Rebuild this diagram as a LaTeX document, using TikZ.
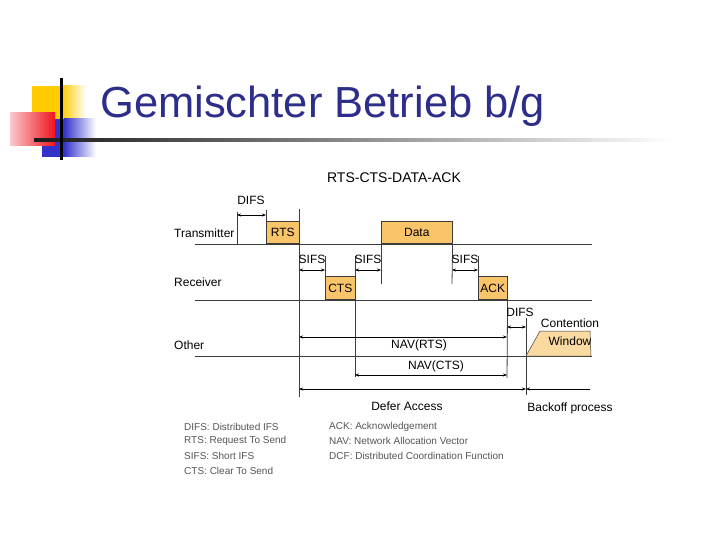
\documentclass[tikz,border=0pt]{standalone}
\usepackage{fontspec}
\setmainfont{Liberation Sans}
\usetikzlibrary{arrows.meta}
\definecolor{titleblue}{RGB}{45,45,140}
\definecolor{boxfill}{RGB}{249,196,106}
\definecolor{cwfill}{RGB}{251,218,162}
\definecolor{linegray}{RGB}{60,60,60}
\definecolor{legendgray}{RGB}{85,85,85}
\definecolor{logoyellow}{RGB}{255,204,0}
\definecolor{logoblue}{RGB}{51,51,204}
\definecolor{logored}{RGB}{240,20,30}
\definecolor{logopink}{RGB}{250,200,205}
\begin{document}
\begin{tikzpicture}[x=1pt,y=-1pt,
  axis/.style={draw=linegray, line width=0.8pt},
  tickline/.style={draw=linegray, line width=0.8pt},
  dim/.style={draw=black, line width=0.6pt, {Stealth[length=4pt,width=3pt]}-{Stealth[length=4pt,width=3pt]}},
  ldim/.style={draw=black, line width=0.6pt, {Stealth[length=4pt,width=3pt]}-},
  framebox/.style={draw=linegray, line width=0.6pt, fill=boxfill, inner sep=0pt, anchor=south west, font=\fontsize{12}{14}\selectfont},
  lbl/.style={font=\fontsize{12}{14}\selectfont, inner sep=0pt},
  leg/.style={font=\fontsize{10}{12}\selectfont, text=legendgray, anchor=west, inner sep=0pt}
]
\useasboundingbox[fill=white] (0,0) rectangle (720,540);

% ---- logo ----
\fill[logoyellow] (32,86) rectangle (62,120);
\shade[left color=logoyellow, right color=white] (62,86) rectangle (86,120);
\fill[logoblue] (42,119) rectangle (64,157);
\shade[left color=logoblue, right color=white] (64,119) rectangle (96,157);
\shade[left color=logopink, right color=logored] (10,113) rectangle (55,146);
\shade[left color=black!90, right color=white] (34,139) rectangle (673,141.5);
\fill[black] (60,78) rectangle (62.5,160);

% ---- title ----
\node[anchor=base west, text=titleblue, font=\fontsize{43.5}{50}\selectfont, inner sep=0pt] (title) at (100,118) {Gemischter Betrieb b/g};

% ---- diagram heading ----
\node[font=\fontsize{14}{16}\selectfont, inner sep=0pt] (head) at (394,178) {RTS-CTS-DATA-ACK};

% ---- axes ----
\coordinate (txL) at (195,244); \coordinate (txR) at (592,244);
\coordinate (rxL) at (195,300); \coordinate (rxR) at (592,300);
\coordinate (otL) at (195,356); \coordinate (otR) at (592,356);
\draw[axis] (txL) -- (txR);
\draw[axis] (rxL) -- (rxR);
\draw[axis] (otL) -- (otR);

\node[lbl, anchor=west] (ltx) at (174,233) {Transmitter};
\node[lbl, anchor=west] (lrx) at (174,282) {Receiver};
\node[lbl, anchor=west] (lot) at (174,345) {Other};

% ---- frames ----
\node[framebox, minimum width=33pt, minimum height=22pt] (rts) at (266,244) {RTS};
\node[framebox, minimum width=71pt, minimum height=22pt] (data) at (381,244) {Data};
\node[framebox, minimum width=30pt, minimum height=23pt] (cts) at (325,300) {CTS};
\node[framebox, minimum width=29pt, minimum height=23pt] (ack) at (478,300) {ACK};

% ---- timing lines ----
\coordinate (a1) at (237,212); \coordinate (a2) at (237,244);
\coordinate (b1) at (266,210);
\coordinate (c1) at (299,209); \coordinate (c2) at (299,397);
\coordinate (d1) at (325,256);
\coordinate (e1) at (355,256); \coordinate (e2) at (355,377);
\coordinate (f2) at (381,284);
\coordinate (g2) at (452,284);
\coordinate (h1) at (478,256);
\coordinate (i2) at (507,378);
\coordinate (j1) at (526,318); \coordinate (j2) at (526,395);
\draw[tickline] (a1) -- (a2);
\draw[tickline] (b1) -- (rts.north west);
\draw[tickline] (c1) -- (c2);
\draw[tickline] (d1) -- (cts.north west);
\draw[tickline] (e1) -- (e2);
\draw[tickline] (data.north west) -- (f2);
\draw[tickline] (data.south east) -- (g2);
\draw[tickline] (h1) -- (ack.north west);
\draw[tickline] (ack.south east) -- (i2);
\draw[tickline] (j1) -- (j2);

% ---- interval arrows ----
\coordinate (p1) at (237,215); \coordinate (p2) at (266,215);
\draw[dim] (p1) -- (p2);
\node[lbl] (difs1) at (251,200) {DIFS};

\coordinate (s1a) at (299,270); \coordinate (s1b) at (325,270);
\coordinate (s2a) at (355,270); \coordinate (s2b) at (381,270);
\coordinate (s3a) at (452,270); \coordinate (s3b) at (478,270);
\draw[dim] (s1a) -- (s1b);
\draw[dim] (s2a) -- (s2b);
\draw[dim] (s3a) -- (s3b);
\node[lbl] (sifs1) at (312,259) {SIFS};
\node[lbl] (sifs2) at (368,259) {SIFS};
\node[lbl] (sifs3) at (465,259) {SIFS};

\coordinate (q1) at (507,327); \coordinate (q2) at (526,327);
\draw[dim] (q1) -- (q2);
\node[lbl] (difs2) at (520,312) {DIFS};

\coordinate (n1a) at (299,337); \coordinate (n1b) at (507,337);
\draw[dim] (n1a) -- (n1b);
\node[lbl] (navrts) at (419,345) {NAV(RTS)};

\coordinate (n2a) at (355,375); \coordinate (n2b) at (507,375);
\draw[dim] (n2a) -- (n2b);
\node[lbl] (navcts) at (436,366) {NAV(CTS)};

\coordinate (da) at (299,389); \coordinate (db) at (526,389);
\draw[dim] (da) -- (db);
\node[lbl] (defer) at (407,406) {Defer Access};

\coordinate (bb) at (590,389);
\draw[ldim] (db) -- (bb);
\node[lbl] (backoff) at (570,408) {Backoff process};

% ---- contention window ----
\draw[draw=linegray, line width=0.5pt, fill=cwfill] (526,356) -- (540,331) -- (590,331) -- (591,356) -- cycle;
\node[lbl] (cont) at (570,323) {Contention};
\node[lbl] (win) at (570,341) {Window};

% ---- legend ----
\node[leg] (lg1) at (184,427) {DIFS: Distributed IFS};
\node[leg] (lg2) at (184,441) {RTS: Request To Send};
\node[leg] (lg3) at (184,456) {SIFS: Short IFS};
\node[leg] (lg4) at (184,471) {CTS: Clear To Send};
\node[leg] (lg5) at (329,427) {ACK: Acknowledgement};
\node[leg] (lg6) at (329,441) {NAV: Network Allocation Vector};
\node[leg] (lg7) at (329,456) {DCF: Distributed Coordination Function};
\end{tikzpicture}
\end{document}
